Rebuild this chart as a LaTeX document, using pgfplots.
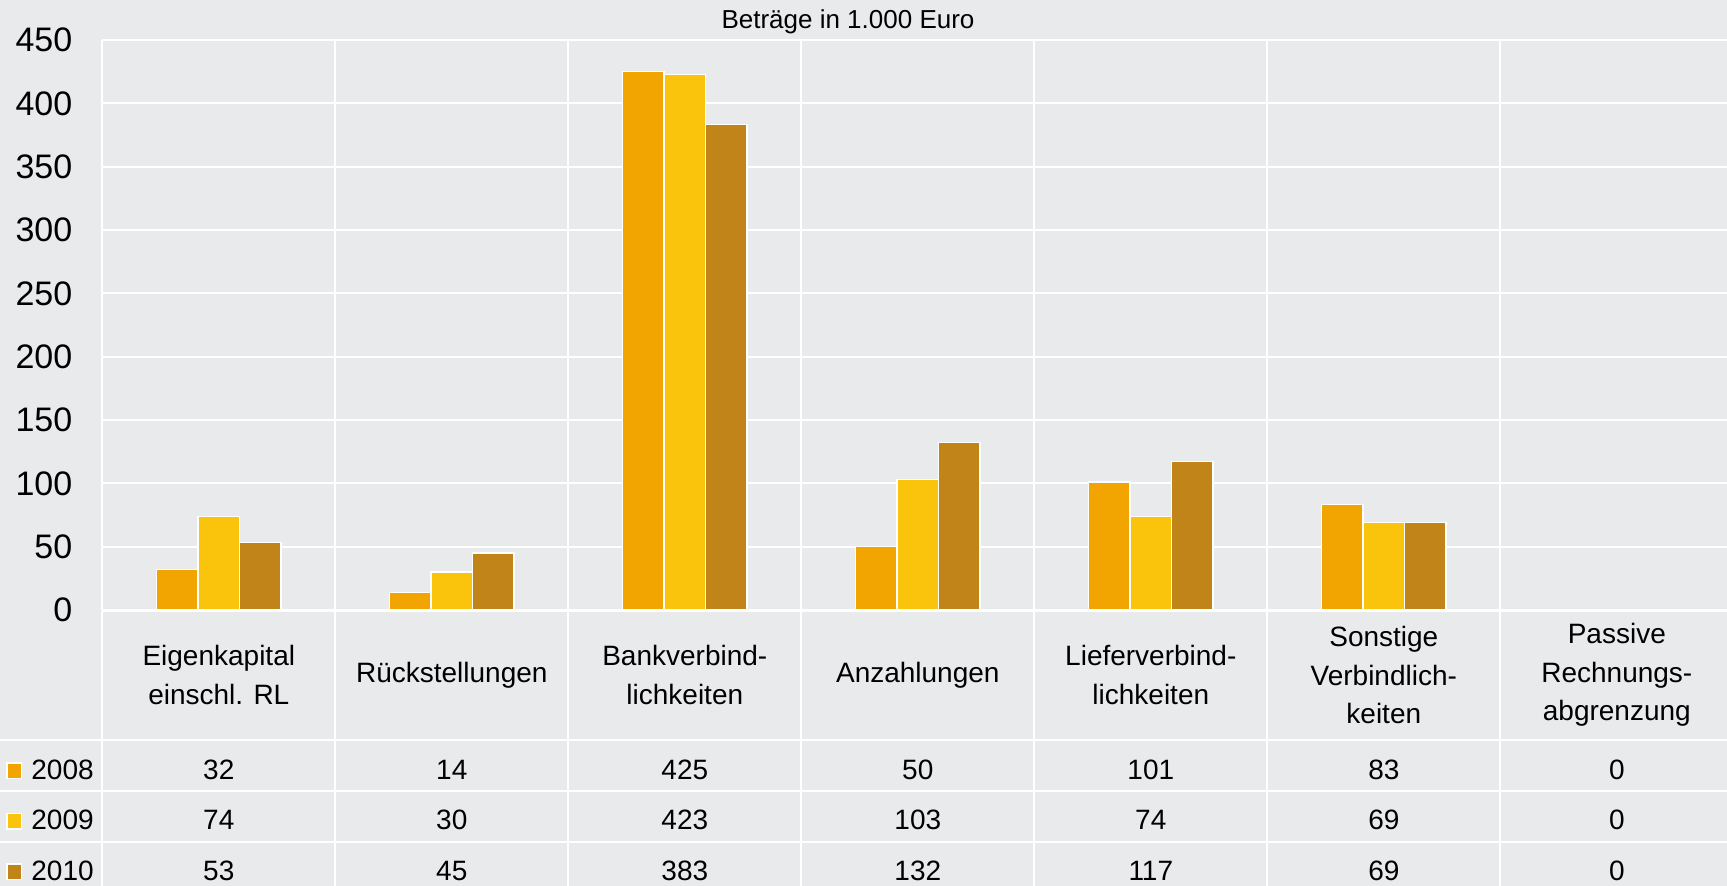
\documentclass[border=0pt]{standalone}
\usepackage{fontspec}
\setmainfont{Liberation Sans}
\usepackage{pgfplots}
\pgfplotsset{compat=1.18}
\definecolor{bg}{HTML}{E9EAEC}
\definecolor{cA}{HTML}{F2A500}
\definecolor{cB}{HTML}{FAC30C}
\definecolor{cC}{HTML}{C18419}
\begin{document}
\begin{tikzpicture}[x=0.5pt,y=-0.5pt]
\path[use as bounding box] (0,0) rectangle (1727,886);
\clip (0,0) rectangle (1727,886);
\fill[bg] (0,0) rectangle (1727,886);
\begin{axis}[
  at={(51.15pt,-305pt)}, anchor=south west,
  scale only axis, width=815.5pt, height=285pt,
  xmin=0, xmax=7, ymin=0, ymax=450,
  ytick={0,50,...,450},
  xtick={0,...,7}, xticklabel=\empty,
  major tick length=0pt,
  axis line style={draw=none},
  xmajorgrids, ymajorgrids,
  major grid style={white, line width=1pt},
  /pgf/number format/assume math mode=true,
  yticklabel style={font=\fontsize{17}{20}\selectfont, inner sep=0pt, anchor=east, xshift=-14.8pt},
  ybar, bar width=20.75pt,
  clip=false,
]
\addplot[fill=cA, draw=white, line width=0.6pt, bar shift=-20.75pt] coordinates
  {(0.5,32) (1.5,14) (2.5,425) (3.5,50) (4.5,101) (5.5,83) (6.5,0)};
\addplot[fill=cB, draw=white, line width=0.6pt, bar shift=0pt] coordinates
  {(0.5,74) (1.5,30) (2.5,423) (3.5,103) (4.5,74) (5.5,69) (6.5,0)};
\addplot[fill=cC, draw=white, line width=0.6pt, bar shift=20.75pt] coordinates
  {(0.5,53) (1.5,45) (2.5,383) (3.5,132) (4.5,117) (5.5,69) (6.5,0)};
\draw[white, line width=1.5pt] (axis cs:0,0) -- (axis cs:7,0);
\end{axis}
% table grid
\foreach \k in {0,...,6} {
  \draw[white, line width=1pt] ({102.3+233*\k},611) -- ({102.3+233*\k},886);
}
\foreach \yy in {740,791,842} {
  \draw[white, line width=1pt] (0,\yy) -- (1727,\yy);
}
% title
\node[anchor=base, inner sep=0pt, font=\fontsize{13}{15}\selectfont] at (848,29) {Beträge in 1.000 Euro};
% category labels
\begin{scope}[every node/.style={align=center, inner sep=0pt, font=\fontsize{14}{19.3}\selectfont}]
\node at ({102.3+233*0.5},675) {Eigenkapital\\einschl. RL};
\node at ({102.3+233*1.5},675) {Rückstellungen};
\node at ({102.3+233*2.5},675) {Bankverbind-\\lichkeiten};
\node at ({102.3+233*3.5},675) {Anzahlungen};
\node at ({102.3+233*4.5},675) {Lieferverbind-\\lichkeiten};
\node at ({102.3+233*5.5},675) {Sonstige\\Verbindlich-\\keiten};
\node at ({102.3+233*6.5},675) {Passive\\Rechnungs-\\abgrenzung};
\end{scope}
% data table
\begin{scope}[every node/.style={anchor=base, inner sep=0pt, font=\fontsize{14}{16}\selectfont}]
\foreach \v [count=\i from 0] in {32,14,425,50,101,83,0}
  \node at ({102.3+233*(\i+0.5)},779) {\v};
\foreach \v [count=\i from 0] in {74,30,423,103,74,69,0}
  \node at ({102.3+233*(\i+0.5)},829.5) {\v};
\foreach \v [count=\i from 0] in {53,45,383,132,117,69,0}
  \node at ({102.3+233*(\i+0.5)},880) {\v};
\end{scope}
% legend keys
\foreach \c/\yy/\lab in {cA/779/2008, cB/829.5/2009, cC/880/2010} {
  \fill[white] (6,\yy-17) rectangle (22,\yy+0);
  \fill[\c] (7.5,\yy-15.5) rectangle (20.5,\yy-1.5);
  \node[anchor=base west, inner sep=0pt, font=\fontsize{14}{16}\selectfont] at (31,\yy) {\lab};
}
\end{tikzpicture}
\end{document}
